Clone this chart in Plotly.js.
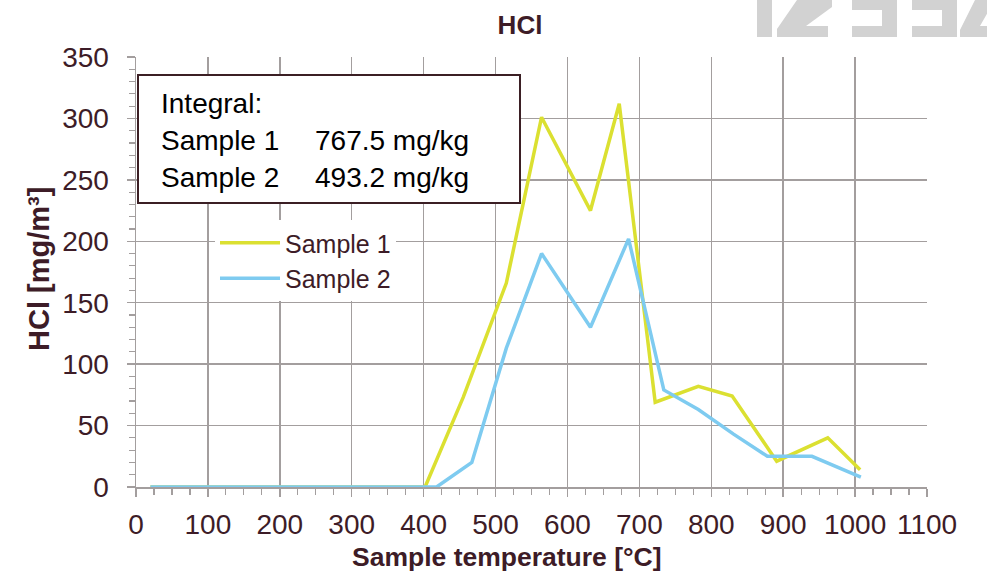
<!DOCTYPE html>
<html>
<head>
<meta charset="utf-8">
<script src="https://cdn.plot.ly/plotly-3.0.1.min.js"></script>
<style>
  html, body { margin: 0; padding: 0; background: #ffffff; }
  #chart { width: 987px; height: 580px; }
</style>
</head>
<body>
<div id="chart"></div>
<script>
// ---- data ----
const sample1Temp = [20, 100, 200, 300, 402, 455, 515, 564, 632, 672, 722, 782, 829, 891, 962, 1007];
const sample1HCl  = [0, 0, 0, 0, 0, 73, 166, 301, 225, 312, 69, 82, 74, 21, 40, 14];
const sample2Temp = [20, 100, 200, 300, 418, 467, 515, 564, 632, 685, 734, 782, 831, 878, 940, 1008];
const sample2HCl  = [0, 0, 0, 0, 0, 20, 113, 190, 130, 202, 79, 63, 43, 25, 25, 8];
const seriesNames = ["Sample 1", "Sample 2"];
const integralLabels = ["Sample 1", "Sample 2"];
const integralValues = ["767.5 mg/kg", "493.2 mg/kg"];
const xTickVals = [0, 100, 200, 300, 400, 500, 600, 700, 800, 900, 1000, 1100];
const yTickVals = [0, 50, 100, 150, 200, 250, 300, 350];

// ---- layout helpers (pixel -> paper) ----
const L = 136, R = 927, T = 57, B = 487;
const W = 987, H = 580;
const X = px => (px - L) / (R - L);
const Y = py => (B - py) / (B - T);
function poly(pts) {
  return 'M' + pts.map(p => X(p[0]).toFixed(5) + ',' + Y(p[1]).toFixed(5)).join(' L') + ' Z';
}

const FONT = "'Liberation Sans', Arial, Helvetica, sans-serif";
const TXT = '#3d1c27';
const GRID = '#a39e9e';
const LOGO = '#d2d2d2';

const traces = [
  { x: sample1Temp, y: sample1HCl, name: seriesNames[0], type: 'scatter', mode: 'lines',
    line: { color: '#dbe031', width: 3.5 } },
  { x: sample2Temp, y: sample2HCl, name: seriesNames[1], type: 'scatter', mode: 'lines',
    line: { color: '#7ecbf0', width: 3.5 } }
];

const logoShapes = [
  poly([[757,0],[772,0],[772,37],[757,37]]),
  poly([[797,0],[832,0],[832,7],[806,26],[828,26],[828,37],[777,37],[777,29]]),
  poly([[852,0],[897,0],[897,37],[852,37],[852,26],[882,26],[882,10],[852,10]]),
  poly([[912,0],[957,0],[957,37],[912,37],[912,26],[942,26],[942,10],[912,10]]),
  poly([[975,0],[995,0],[980,26],[990,26],[990,37],[960,37],[960,30]])
].map(p => ({ type: 'path', path: p, xref: 'paper', yref: 'paper',
              fillcolor: LOGO, line: { width: 0 }, layer: 'above' }));

const annFont = { family: FONT, size: 28, color: '#000000' };
const annotations = [
  { text: 'Integral:', x: X(159), y: Y(103) },
  { text: integralLabels[0], x: X(159), y: Y(140) },
  { text: integralValues[0], x: X(313), y: Y(140) },
  { text: integralLabels[1], x: X(159), y: Y(177) },
  { text: integralValues[1], x: X(313), y: Y(177) }
].map(a => Object.assign({ xref: 'paper', yref: 'paper', xanchor: 'left', yanchor: 'middle',
                           showarrow: false, font: annFont }, a));

// axis titles as positioned annotations
annotations.push({ text: '<b>Sample temperature [°C]</b>', xref: 'paper', yref: 'paper',
  x: X(507), y: Y(557), xanchor: 'center', yanchor: 'middle', showarrow: false,
  font: { family: FONT, size: 26.5, color: TXT } });
annotations.push({ text: '<b>HCl [mg/m³]</b>', xref: 'paper', yref: 'paper', textangle: -90,
  x: X(39), y: Y(269), xanchor: 'center', yanchor: 'middle', showarrow: false,
  font: { family: FONT, size: 29, color: TXT } });

const layout = {
  width: W, height: H,
  margin: { l: L, r: W - R, t: T, b: H - B, pad: 0 },
  paper_bgcolor: '#ffffff', plot_bgcolor: '#ffffff',
  font: { family: FONT, size: 26, color: TXT },
  title: { text: '<b>HCl</b>', font: { family: FONT, size: 26, color: TXT },
           x: X(520), xref: 'paper', xanchor: 'center', y: 1 - 25 / H, yanchor: 'middle' },
  xaxis: {
    range: [0, 1100], tickvals: xTickVals, ticktext: xTickVals.map(String),
    showgrid: true, gridcolor: GRID, gridwidth: 1.5,
    showline: true, linecolor: GRID, linewidth: 1.5,
    ticks: 'outside', ticklen: 8, tickcolor: GRID, tickwidth: 1.5,
    minor: { dtick: 25, ticks: 'outside', ticklen: 6, tickcolor: GRID, tickwidth: 1.2, showgrid: false },
    ticklabelstandoff: 4,
    tickfont: { family: FONT, size: 28, color: TXT },
    zeroline: false, fixedrange: true
  },
  yaxis: {
    range: [0, 350], tickvals: yTickVals, ticktext: yTickVals.map(String),
    showgrid: true, gridcolor: GRID, gridwidth: 1.5,
    showline: true, linecolor: GRID, linewidth: 1.5,
    ticks: 'outside', ticklen: 8, tickcolor: GRID, tickwidth: 1.5,
    minor: { dtick: 10, ticks: 'outside', ticklen: 6, tickcolor: GRID, tickwidth: 1.2, showgrid: false },
    ticklabelstandoff: 12,
    tickfont: { family: FONT, size: 28, color: TXT },
    zeroline: false, fixedrange: true
  },
  showlegend: true,
  legend: {
    x: X(215), y: Y(220), xanchor: 'left', yanchor: 'top',
    bgcolor: '#ffffff', borderwidth: 0,
    font: { family: FONT, size: 25, color: TXT },
    itemwidth: 60
  },
  shapes: [
    { type: 'rect', xref: 'paper', yref: 'paper', x0: X(138), x1: X(520), y0: Y(75), y1: Y(203),
      fillcolor: '#ffffff', line: { color: '#3b1f24', width: 2 }, layer: 'above' }
  ].concat(logoShapes),
  annotations: annotations
};

Plotly.newPlot('chart', traces, layout, { displayModeBar: false, staticPlot: true });
</script>
</body>
</html>
